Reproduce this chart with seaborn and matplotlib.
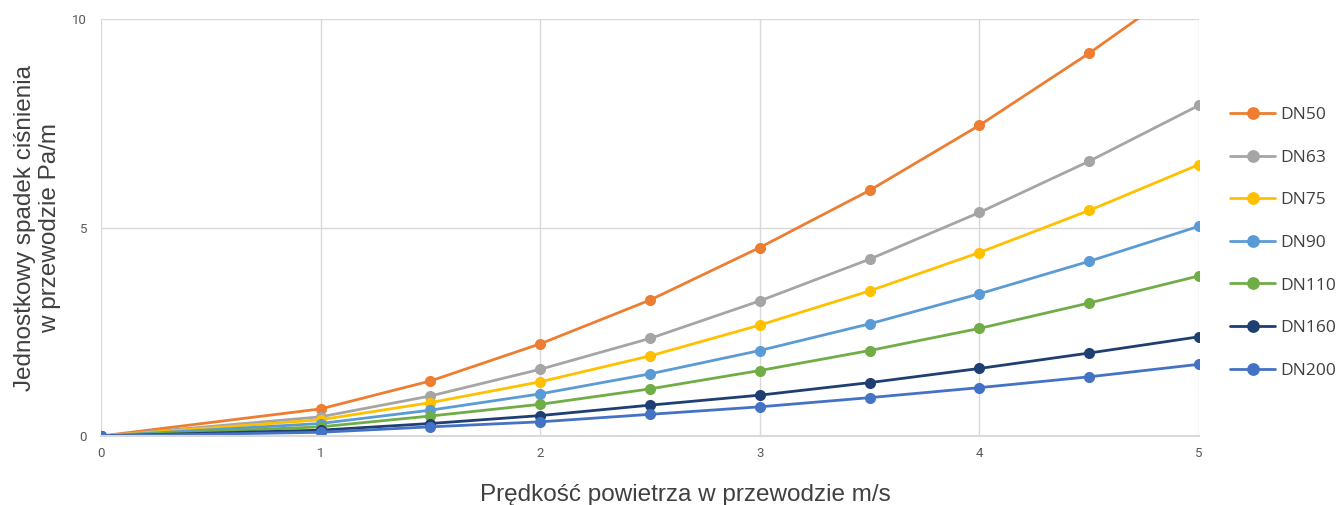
import pandas as pd
import seaborn as sns
import matplotlib.pyplot as plt

# air velocity in duct [m/s]
velocity = [0, 1, 1.5, 2, 2.5, 3, 3.5, 4, 4.5, 5]

# unit pressure drop [Pa/m]
dn50 = [0, 0.65, 1.32, 2.21, 3.26, 4.52, 5.89, 7.45, 9.18, 11.05]
dn63 = [0, 0.46, 0.96, 1.60, 2.34, 3.24, 4.24, 5.36, 6.59, 7.93]
dn75 = [0, 0.39, 0.80, 1.30, 1.92, 2.66, 3.48, 4.40, 5.41, 6.51]
dn90 = [0, 0.30, 0.62, 1.01, 1.49, 2.05, 2.69, 3.41, 4.19, 5.03]
dn110 = [0, 0.22, 0.48, 0.76, 1.13, 1.57, 2.05, 2.58, 3.19, 3.84]
dn160 = [0, 0.14, 0.30, 0.49, 0.74, 0.98, 1.28, 1.62, 1.99, 2.38]
dn200 = [0, 0.09, 0.22, 0.34, 0.52, 0.70, 0.92, 1.16, 1.42, 1.72]

names = ["DN50", "DN63", "DN75", "DN90", "DN110", "DN160", "DN200"]
series = [dn50, dn63, dn75, dn90, dn110, dn160, dn200]
colors = ["#ED7D31", "#A5A5A5", "#FFC000", "#5B9BD5", "#70AD47", "#1F3F73", "#4472C4"]

rows = []
for name, vals in zip(names, series):
    for v, p in zip(velocity, vals):
        rows.append({"v": v, "dp": p, "rura": name})
data = pd.DataFrame(rows)

sns.set_style("white")
plt.rcParams['font.family'] = ['Liberation Sans', 'DejaVu Sans']

fig = plt.figure(figsize=(13.37, 5.05), dpi=100)
ax = fig.add_axes([0.0755, 0.1366, 0.8213, 0.8258])

sns.lineplot(data=data, x="v", y="dp", hue="rura", palette=colors,
             marker="o", markersize=8, markeredgewidth=0, linewidth=2,
             ax=ax)

ax.set_xlim(0, 5)
ax.set_ylim(0, 10)
ax.set_xticks([0, 1, 2, 3, 4, 5])
ax.set_yticks([0, 5, 10])
ax.grid(True, color="#D9D9D9", linewidth=1)
ax.set_axisbelow(True)
for side in ["top", "right", "left"]:
    ax.spines[side].set_visible(False)
ax.spines["bottom"].set_color("#D9D9D9")
ax.spines["bottom"].set_linewidth(1.5)
ax.tick_params(axis="both", length=0, labelsize=9.5, labelcolor="#595959")
ax.tick_params(axis="x", pad=8)
ax.tick_params(axis="y", pad=10)
for t in ax.get_xticklabels() + ax.get_yticklabels():
    t.set_family(["Roboto", "DejaVu Sans"])

ax.set_xlabel("Prędkość powietrza w przewodzie m/s", fontsize=17.5,
              color="#404040", labelpad=14)
ax.xaxis.set_label_coords(0.532, -0.115)
ax.set_ylabel("Jednostkowy spadek ciśnienia\nw przewodzie Pa/m", fontsize=17.5,
              color="#404040", linespacing=1.2)
ax.yaxis.set_label_coords(-0.036, 0.5)

leg = ax.legend(loc="center left", bbox_to_anchor=(1.022, 0.463), frameon=False,
                fontsize=12.5, handlelength=2.6, handletextpad=0.3,
                labelspacing=1.52, borderaxespad=0, markerscale=1.15,
                title=None)
for t in leg.get_texts():
    t.set_color("#404040")
    t.set_family(["Open Sans", "DejaVu Sans"])

plt.savefig("out.png", dpi=100)
